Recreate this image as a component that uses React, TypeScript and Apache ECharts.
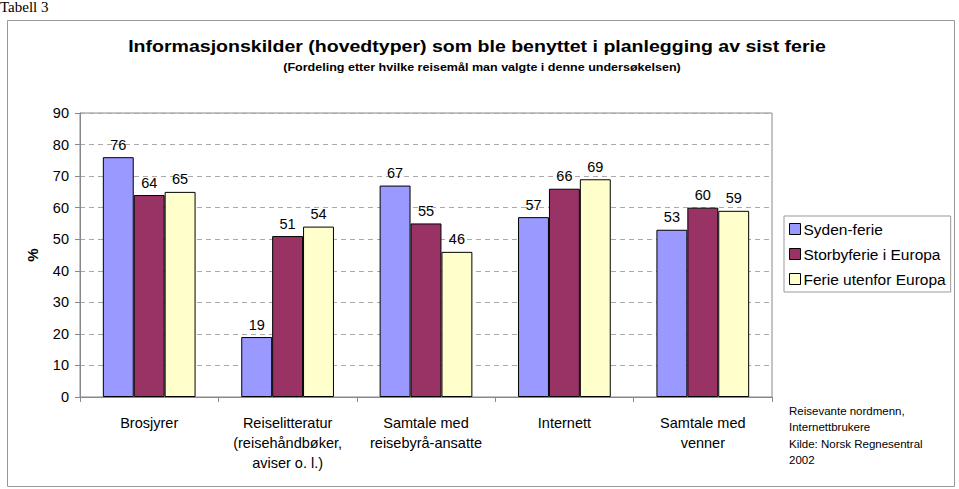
import React, { useEffect, useRef } from "react";
import * as echarts from "echarts";

const categories = [
  "Brosjyrer",
  "Reiselitteratur\n(reisehåndbøker,\naviser o. l.)",
  "Samtale med\nreisebyrå-ansatte",
  "Internett",
  "Samtale med\nvenner",
];
const seriesNames = ["Syden-ferie", "Storbyferie i Europa", "Ferie utenfor Europa"];
const sydenFerie = [76, 19, 67, 57, 53];
const storbyFerie = [64, 51, 55, 66, 60];
const ferieUtenfor = [65, 54, 46, 69, 59];
const colors = ["#9999FF", "#993366", "#FFFFCC"];
const titleText = "Informasjonskilder (hovedtyper) som ble benyttet i planlegging av sist ferie";
const subtitleText = "(Fordeling etter hvilke reisemål man valgte i denne undersøkelsen)";
const noteLines = ["Reisevante nordmenn,", "Internettbrukere", "Kilde: Norsk Regnesentral", "2002"];

const FONT = "'Liberation Sans', Arial, sans-serif";

export default function App() {
  const ref = useRef<HTMLDivElement>(null);
  useEffect(() => {
    if (!ref.current) return;
    const chart = echarts.init(ref.current, undefined, { renderer: "svg" });
    const values = [sydenFerie, storbyFerie, ferieUtenfor];
    chart.setOption({
      animation: false,
      backgroundColor: "#ffffff",
      textStyle: { fontFamily: FONT, color: "#000" },
      grid: { left: 80, top: 113, right: 187, bottom: 92, show: true, borderColor: "#888", borderWidth: 1 },
      legend: {
        orient: "vertical",
        left: 784,
        top: 216,
        padding: [5, 5, 5, 5],
        itemGap: 9,
        itemWidth: 11,
        itemHeight: 11,
        icon: "rect",
        borderColor: "#999",
        borderWidth: 1,
        textStyle: { fontFamily: FONT, fontSize: 15.5, color: "#000", padding: [0, 0, 0, -2] },
        itemStyle: { borderColor: "#000", borderWidth: 1 },
        data: seriesNames,
      },
      xAxis: {
        type: "category",
        data: categories,
        axisLine: { lineStyle: { color: "#888" } },
        axisTick: { show: true, length: 5, lineStyle: { color: "#888" } },
        axisLabel: { fontFamily: FONT, fontSize: 14.5, color: "#000", margin: 16, lineHeight: 20, interval: 0 },
      },
      yAxis: {
        type: "value",
        min: 0,
        max: 90,
        interval: 10,
        name: "%",
        nameLocation: "middle",
        nameGap: 40,
        nameRotate: 90,
        nameTextStyle: { fontFamily: FONT, fontSize: 15, fontWeight: "bold", color: "#000" },
        axisLine: { show: true, lineStyle: { color: "#888" } },
        axisTick: { show: true, length: 5, lineStyle: { color: "#888" } },
        axisLabel: { fontFamily: FONT, fontSize: 14.5, color: "#000", margin: 11 },
        splitLine: { lineStyle: { color: "#aaa", type: [5, 4] } },
      },
      series: seriesNames.map((name, i) => ({
        name,
        type: "bar",
        data: values[i],
        barGap: "0%",
        barCategoryGap: "33%",
        itemStyle: { color: colors[i], borderColor: "#000", borderWidth: 1 },
        label: { show: true, position: "top", distance: 5, fontFamily: FONT, fontSize: 14.5, color: "#000" },
      })),
      graphic: [
        {
          type: "rect",
          shape: { x: 7.5, y: 20.5, width: 947, height: 466 },
          style: { fill: "none", stroke: "#999", lineWidth: 1 },
          silent: true,
        },
        {
          type: "text",
          x: 477,
          y: 46,
          scaleX: 1.15,
          style: {
            text: titleText,
            fontFamily: FONT,
            fontSize: 17,
            fontWeight: "bold",
            fill: "#000",
            align: "center",
            verticalAlign: "middle",
          },
        },
        {
          type: "text",
          x: 482,
          y: 67,
          scaleX: 1.14,
          style: {
            text: subtitleText,
            fontFamily: FONT,
            fontSize: 11,
            fontWeight: "bold",
            fill: "#000",
            align: "center",
            verticalAlign: "middle",
          },
        },
        {
          type: "text",
          left: 0,
          top: -1,
          style: { text: "Tabell 3", fontFamily: "'Liberation Serif', 'Times New Roman', serif", fontSize: 15, fill: "#000" },
        },
        ...noteLines.map((t, k) => ({
          type: "text",
          left: 789,
          top: 405 + k * 16.3,
          style: { text: t, fontFamily: FONT, fontSize: 11.5, fill: "#000" },
        })),
      ],
    });
    return () => chart.dispose();
  }, []);
  return (
    <div
      ref={ref}
      style={{ position: "fixed", left: 0, top: 0, width: 959, height: 489 }}
    />
  );
}
